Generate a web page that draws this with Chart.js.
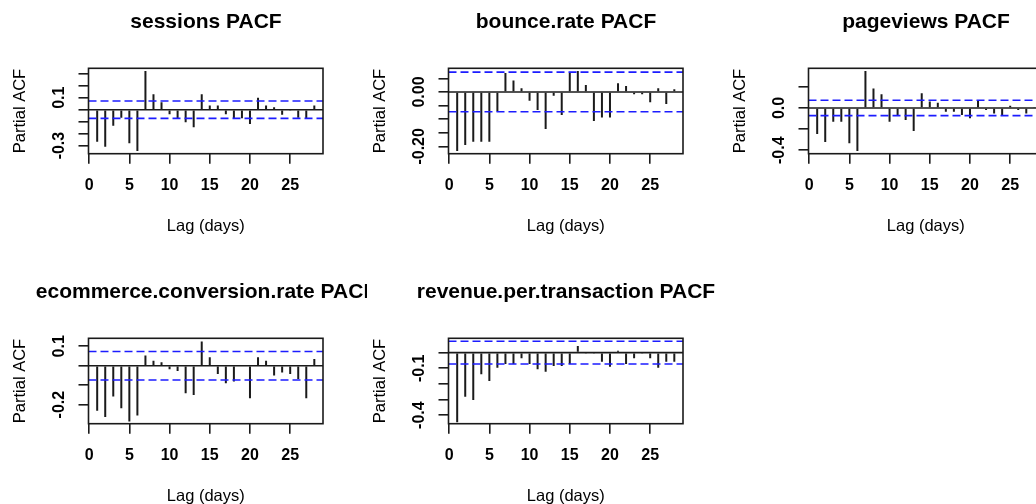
<!DOCTYPE html>
<html>
<head>
<meta charset="utf-8">
<script src="https://cdn.jsdelivr.net/npm/chart.js@4.4.1/dist/chart.umd.min.js"></script>
<style>
html,body{margin:0;padding:0;background:#fff;overflow:hidden;width:1036px;height:504px;}
.panel{position:absolute;overflow:hidden;width:367px;height:270px;}
.panel canvas{position:absolute;left:0;top:0;}
</style>
</head>
<body>
<script>
// ---------- data ----------
const lags = [1,2,3,4,5,6,7,8,9,10,11,12,13,14,15,16,17,18,19,20,21,22,23,24,25,26,27,28];
const xTickValues = [0,5,10,15,20,25];
const titles = ['sessions PACF','bounce.rate PACF','pageviews PACF','ecommerce.conversion.rate PACF','revenue.per.transaction PACF'];

const sessionsPacf = [-0.268,-0.310,-0.134,-0.067,-0.281,-0.346,0.324,0.129,0.062,-0.039,-0.072,-0.105,-0.147,0.129,0.034,0.034,-0.039,-0.072,-0.072,-0.120,0.100,0.034,0.020,-0.042,-0.008,-0.067,-0.075,0.034];
const bounceRatePacf = [-0.217,-0.195,-0.183,-0.183,-0.183,-0.072,0.070,0.042,0.014,-0.032,-0.066,-0.136,-0.014,-0.085,0.070,0.077,0.026,-0.107,-0.094,-0.094,0.032,0.022,-0.008,-0.008,-0.038,0.014,-0.044,0.010];
const pageviewsPacf = [-0.247,-0.323,-0.130,-0.130,-0.335,-0.408,0.349,0.185,0.129,-0.130,-0.067,-0.114,-0.219,0.138,0.062,0.050,-0.036,-0.036,-0.067,-0.098,0.075,-0.020,-0.052,-0.067,0.021,-0.020,-0.052,0.010];
const ecommercePacf = [-0.232,-0.264,-0.158,-0.218,-0.287,-0.256,0.052,0.026,0.018,-0.018,-0.027,-0.141,-0.151,0.124,0.044,-0.042,-0.090,-0.081,0.004,-0.167,0.044,0.026,-0.050,-0.035,-0.042,-0.068,-0.167,0.035];
const revenuePacf = [-0.446,-0.282,-0.303,-0.139,-0.181,-0.096,-0.072,-0.072,-0.036,-0.072,-0.107,-0.122,-0.085,-0.085,-0.072,0.043,-0.003,-0.003,-0.058,-0.090,0.013,-0.072,-0.036,-0.003,-0.036,-0.096,-0.058,-0.058];

const ciBound = 0.073;

const yMins = [-0.368,-0.227,-0.433,-0.298,-0.455];
const yMaxs = [0.346,0.087,0.375,0.141,0.092];

const sessionsYTicks = [-0.3,-0.2,-0.1,0,0.1,0.2,0.3];
const sessionsYLabels = ['-0.3','','','','0.1','',''];
const bounceYTicks = [-0.2,-0.15,-0.1,-0.05,0,0.05];
const bounceYLabels = ['-0.20','','','','0.00',''];
const pageviewsYTicks = [-0.4,-0.2,0,0.2];
const pageviewsYLabels = ['-0.4','','0.0',''];
const ecommerceYTicks = [-0.2,-0.1,0,0.1];
const ecommerceYLabels = ['-0.2','','','0.1'];
const revenueYTicks = [-0.4,-0.3,-0.2,-0.1,0];
const revenueYLabels = ['-0.4','','','-0.1',''];

// ---------- setup ----------
const seriesList = [sessionsPacf,bounceRatePacf,pageviewsPacf,ecommercePacf,revenuePacf];
const yTickList = [sessionsYTicks,bounceYTicks,pageviewsYTicks,ecommerceYTicks,revenueYTicks];
const yLabelList = [sessionsYLabels,bounceYLabels,pageviewsYLabels,ecommerceYLabels,revenueYLabels];

const span = lags[lags.length-1] - lags[0];
const xMin = lags[0] - 0.04*span;
const xMax = lags[lags.length-1] + 0.04*span;

const FONT = '"Liberation Sans", Arial, Helvetica, sans-serif';
Chart.defaults.font.family = FONT;
Chart.defaults.color = '#000';

const rPlot = {
  id: 'rplot',
  afterDraw(chart, args, opts) {
    const {ctx, chartArea: a, scales} = chart;
    const y = scales.y;
    ctx.save();
    ctx.strokeStyle = '#1a1a1a';
    ctx.lineWidth = 1.6;
    ctx.strokeRect(a.left, a.top, a.right - a.left, a.bottom - a.top);
    ctx.fillStyle = '#000';
    ctx.font = 'bold 16px ' + FONT;
    ctx.textAlign = 'center';
    ctx.textBaseline = 'middle';
    opts.ticks.forEach((v, k) => {
      const lab = opts.labels[k];
      if (!lab) return;
      ctx.save();
      ctx.translate(a.left - 28.5, y.getPixelForValue(v));
      ctx.rotate(-Math.PI/2);
      ctx.fillText(lab, 0, 0);
      ctx.restore();
    });
    ctx.restore();
  }
};

function hline(v, color, dash) {
  return {type:'line', data:[{x:xMin,y:v},{x:xMax,y:v}], borderColor:color, borderWidth:1.6,
          borderDash:dash, pointRadius:0, fill:false, order:0};
}

seriesList.forEach((vals, idx) => {
  const col = idx % 3, row = Math.floor(idx/3);
  const wrap = document.createElement('div');
  wrap.className = 'panel';
  wrap.style.left = (col*360) + 'px';
  wrap.style.top = (row*270) + 'px';
  const cv = document.createElement('canvas');
  cv.width = 412; cv.height = 270;
  wrap.appendChild(cv);
  document.body.appendChild(wrap);
  const yT = yTickList[idx];
  new Chart(cv, {
    type: 'bar',
    data: {
      datasets: [
        {type:'bar', data: lags.map((l,k)=>({x:l, y:vals[k]})), backgroundColor:'#1a1a1a',
         barThickness:2, inflateAmount:0, borderWidth:0, order:5},
        hline(0, '#1a1a1a', []),
        hline(ciBound, '#1c1cff', [8,4]),
        hline(-ciBound, '#1c1cff', [8,4])
      ]
    },
    options: {
      responsive:false, animation:false, devicePixelRatio:1,
      layout:{padding:{left:0, right:0, top:0, bottom:26.3}},
      events: [],
      plugins:{
        legend:{display:false}, tooltip:{enabled:false},
        title:{display:true, text:titles[idx], color:'#000', font:{size:21, weight:'bold'},
               padding:{top:10.1, bottom:33}},
        rplot:{ticks:yT, labels:yLabelList[idx]}
      },
      scales:{
        x:{type:'linear', min:xMin, max:xMax, offset:false,
           afterBuildTicks:s=>{ s.ticks = xTickValues.map(v=>({value:v})); },
           afterFit:s=>{ s.height = 90; },
           grid:{display:true, offset:false, drawOnChartArea:false, drawTicks:true, tickLength:10, color:'#1a1a1a', lineWidth:1.6},
           border:{display:false},
           ticks:{autoSkip:false, maxRotation:0, minRotation:0, padding:12.7, font:{size:16, weight:'bold'}, color:'#000',
                  callback:v=>String(v)},
           title:{display:true, text:'Lag (days)', font:{size:16.5}, color:'#000', padding:{top:0, bottom:7.1}}},
        y:{type:'linear', position:'left', min:yMins[idx], max:yMaxs[idx],
           afterBuildTicks:s=>{ s.ticks = yT.map(v=>({value:v})); },
           afterFit:s=>{ s.width = 88.5; },
           grid:{display:true, drawOnChartArea:false, drawTicks:true, tickLength:10, color:'#1a1a1a', lineWidth:1.6},
           border:{display:false},
           ticks:{display:false},
           title:{display:true, text:'Partial ACF', font:{size:16.5}, color:'#000', padding:{top:10.1, bottom:0}}},
        yR:{type:'linear', position:'right', display:true,
            afterFit:s=>{ s.width = 89; },
            grid:{display:false}, border:{display:false}, ticks:{display:false}}
      }
    },
    plugins:[rPlot]
  });
});
</script>
</body>
</html>
